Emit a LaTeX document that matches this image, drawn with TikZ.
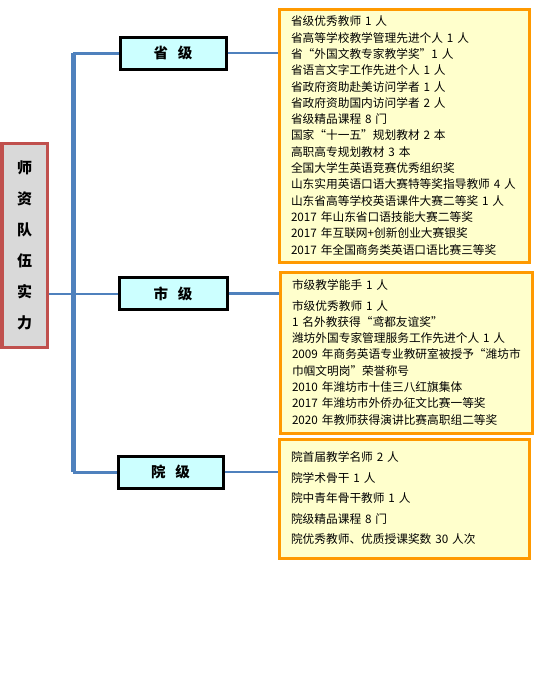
\documentclass[tikz,border=0pt]{standalone}
\usepackage{fontspec}
\newfontfamily\cjk{Noto Sans CJK SC}
\usetikzlibrary{positioning}

\definecolor{trunkblue}{RGB}{79,129,189}
\definecolor{rootred}{RGB}{192,80,77}
\definecolor{levelcyan}{RGB}{204,255,255}
\definecolor{listorange}{RGB}{255,153,0}
\definecolor{listyellow}{RGB}{255,255,204}

\begin{document}
\begin{tikzpicture}[x=1pt, y=-1pt,
    rootbox/.style={draw=rootred, line width=3pt, fill=black!15, minimum width=45pt,
        minimum height=204pt, inner sep=0pt, align=center,
        font=\cjk\bfseries\fontsize{15}{31}\selectfont},
    levelbox/.style={draw=black, line width=3pt, fill=levelcyan, minimum width=106pt,
        minimum height=32pt, inner sep=0pt, font=\cjk\bfseries\fontsize{14.5}{16}\selectfont},
    listbox/.style={draw=listorange, line width=3pt, fill=listyellow, inner xsep=12pt,
        text width=226pt, align=left, font=\cjk\fontsize{11.7}{16.3}\selectfont},
    trunk/.style={draw=trunkblue, line width=5pt},
    branch/.style={draw=trunkblue, line width=2.5pt}]
    \useasboundingbox (0,0) rectangle (541,681);

    % Root
    \node[rootbox] (root) at (24.5,245) {师\\资\\队\\伍\\实\\力};

    % Levels
    \node[levelbox] (sheng) at (173,53) {省\hspace{10pt}级};
    \node[levelbox, minimum width=108pt] (shi) at (173,293.5) {市\hspace{10pt}级};
    \node[levelbox, minimum width=105pt] (yuan) at (170.5,472) {院\hspace{10pt}级};

    % Lists
    \node[listbox, minimum height=253pt] (shenglist) at (404,135.5) {%
        省级优秀教师~1~人\\
        省高等学校教学管理先进个人~1~人\\
        省“外国文教专家教学奖”1~人\\
        省语言文字工作先进个人~1~人\\
        省政府资助赴美访问学者~1~人\\
        省政府资助国内访问学者~2~人\\
        省级精品课程~8~门\\
        国家“十一五”规划教材~2~本\\
        高职高专规划教材~3~本\\
        全国大学生英语竞赛优秀组织奖\\
        山东实用英语口语大赛特等奖指导教师~4~人\\
        山东省高等学校英语课件大赛二等奖~1~人\\
        2017~年山东省口语技能大赛二等奖\\
        2017~年互联网+创新创业大赛银奖\\
        2017~年全国商务类英语口语比赛三等奖};
    \node[listbox, minimum height=161pt, text width=228pt] (shilist) at (406,352.5) {%
        市级教学能手~1~人\\[4pt]
        市级优秀教师~1~人\\
        1~名外教获得“鸢都友谊奖”\\
        潍坊外国专家管理服务工作先进个人~1~人\\
        2009~年商务英语专业教研室被授予“潍坊市\\
        巾帼文明岗”荣誉称号\\
        2010~年潍坊市十佳三八红旗集体\\
        2017~年潍坊市外侨办征文比赛一等奖\\
        2020~年教师获得演讲比赛高职组二等奖};
    \node[listbox, minimum height=119pt, font=\cjk\fontsize{11.7}{20.5}\selectfont]
        (yuanlist) at (404,498.5) {%
        院首届教学名师~2~人\\
        院学术骨干~1~人\\
        院中青年骨干教师~1~人\\
        院级精品课程~8~门\\
        院优秀教师、优质授课奖数~30~人次};

    % Trunk
    \coordinate (trunkx) at (73,0);
    \coordinate (trunktop) at (sheng.west -| trunkx);
    \coordinate (trunkbot) at (yuan.west -| trunkx);
    \draw[trunk] (trunktop) -- (trunkbot);
    \draw[branch, line width=3pt] (trunktop) -- (sheng.west);
    \draw[branch, line width=3pt] (trunkbot) -- (yuan.west);
    \draw[branch, line width=2pt] (shi.west) -- (shi.west -| root.east);

    % Levels to lists
    \draw[branch, line width=1.2pt] (sheng.east) -- (sheng.east -| shenglist.west);
    \draw[branch] (shi.east) -- (shi.east -| shilist.west);
    \draw[branch] (yuan.east) -- (yuan.east -| yuanlist.west);
\end{tikzpicture}
\end{document}
